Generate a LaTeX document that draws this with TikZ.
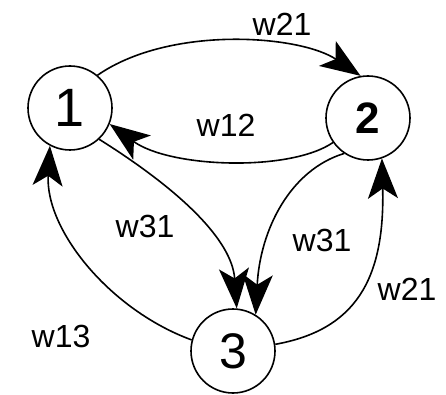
\documentclass[tikz,border=0pt]{standalone}
\usepackage{fontspec}
\setmainfont{Liberation Sans}
\usetikzlibrary{arrows.meta}
\begin{document}
\begin{tikzpicture}[x=1pt,y=-1pt,
  state/.style={circle,draw,line width=1.6pt,minimum size=84pt,inner sep=0pt},
  conn/.style={line width=1.6pt,-{Stealth[length=40pt,width=30pt,inset=10pt]}},
  wlabel/.style={font=\fontsize{32}{32}\selectfont,inner sep=0pt}]
\useasboundingbox (0,0) rectangle (446,395);
\node[state,font=\fontsize{54}{54}\selectfont] (n1) at (70,108) {1};
\node[state,font=\fontsize{44}{44}\selectfont\bfseries] (n2) at (368,118) {2};
\node[state,font=\fontsize{50}{50}\selectfont] (n3) at (233,351) {3};
\draw[conn] (n1.50) .. controls (170,25) and (300,35) .. (n2.100);
\draw[conn] (n2.215) .. controls (290,172) and (170,168) .. (n1.-22);
\draw[conn] (n1.-47) .. controls (180,190) and (232,240) .. (n3.85);
\draw[conn] (n2.236) .. controls (290,170) and (260,230) .. (n3.58);
\draw[conn] (n3.9) .. controls (355,330) and (385,280) .. (n2.-71);
\draw[conn] (n3.165) .. controls (110,310) and (45,230) .. (n1.-118);
\node[wlabel] (l1) at (282,24) {w21};
\node[wlabel] (l2) at (226,125) {w12};
\node[wlabel] (l3) at (145,226) {w31};
\node[wlabel] (l4) at (322,240) {w31};
\node[wlabel] (l5) at (407,289) {w21};
\node[wlabel] (l6) at (61,336) {w13};
\end{tikzpicture}
\end{document}
